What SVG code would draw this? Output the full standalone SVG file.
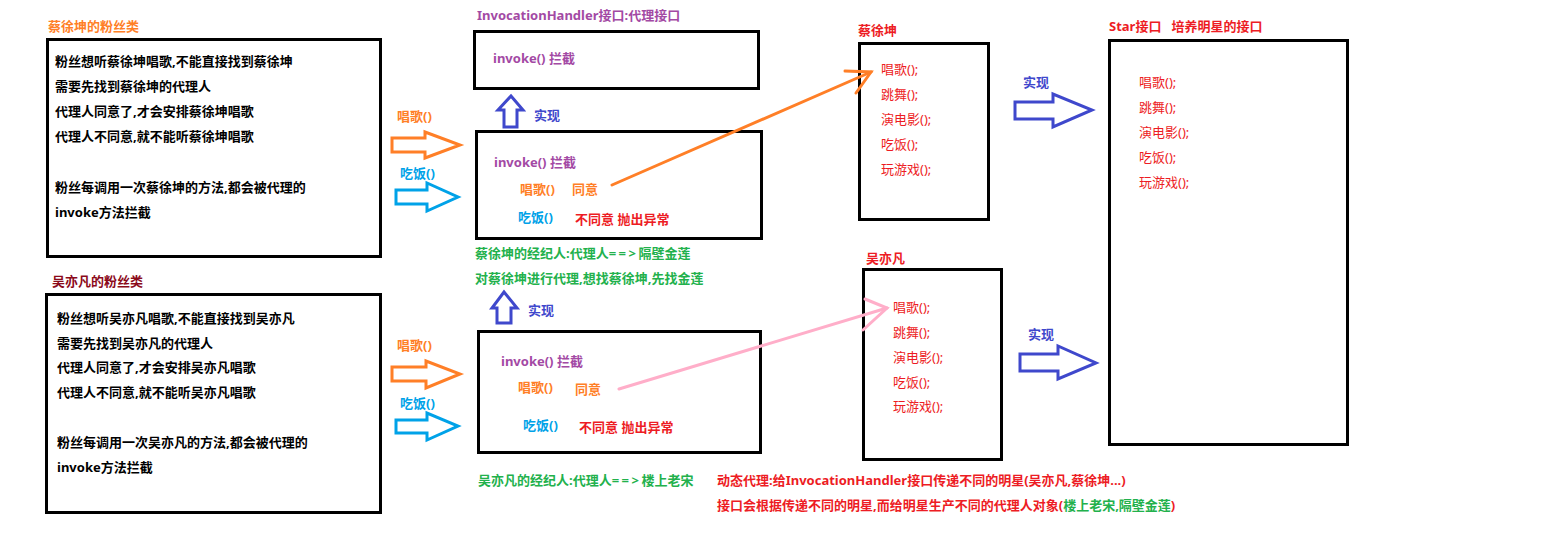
<svg xmlns="http://www.w3.org/2000/svg" width="1554" height="537" viewBox="0 0 1554 537">
<style>
text{font-family:"Noto Sans","Noto Sans CJK SC",sans-serif;font-size:13px;font-weight:bold}
.box{fill:none;stroke:#000;stroke-width:3}
.blk{fill:#000}
.or{fill:#FF7F27}
.bl{fill:#00A2E8}
.pu{fill:#A349A4}
.db{fill:#3F48CC}
.rd{fill:#ED1C24}
.gr{fill:#22B14C}
.dr{fill:#8B0A1A}
.it{font-weight:normal;fill:#ED1C24}
.sp{letter-spacing:2.5px}
.arr{fill:#fff;stroke-width:3;stroke-linejoin:miter}
</style>
<rect width="1554" height="537" fill="#fff"/>

<g id="fans-cxk">
<text x="48" y="31" class="or">蔡徐坤的粉丝类</text>
<rect class="box" x="47.5" y="39.5" width="333" height="217"/>
<text x="55" y="66" class="blk">粉丝想听蔡徐坤唱歌,不能直接找到蔡徐坤</text>
<text x="55" y="91" class="blk">需要先找到蔡徐坤的代理人</text>
<text x="55" y="116" class="blk">代理人同意了,才会安排蔡徐坤唱歌</text>
<text x="55" y="141" class="blk">代理人不同意,就不能听蔡徐坤唱歌</text>
<text x="55" y="192" class="blk">粉丝每调用一次蔡徐坤的方法,都会被代理的</text>
<text x="55" y="217" class="blk">invoke方法拦截</text>
</g>

<g id="fans-wyf">
<text x="52" y="286" class="dr">吴亦凡的粉丝类</text>
<rect class="box" x="46.5" y="294.5" width="334" height="218"/>
<text x="57" y="323" class="blk">粉丝想听吴亦凡唱歌,不能直接找到吴亦凡</text>
<text x="57" y="348" class="blk">需要先找到吴亦凡的代理人</text>
<text x="57" y="372" class="blk">代理人同意了,才会安排吴亦凡唱歌</text>
<text x="57" y="397" class="blk">代理人不同意,就不能听吴亦凡唱歌</text>
<text x="57" y="447" class="blk">粉丝每调用一次吴亦凡的方法,都会被代理的</text>
<text x="57" y="472" class="blk">invoke方法拦截</text>
</g>

<g id="invocation-handler">
<text x="477" y="20" class="pu">InvocationHandler接口:代理接口</text>
<rect class="box" x="474.5" y="31.5" width="284" height="57"/>
<text x="493" y="63" class="pu">invoke() 拦截</text>
</g>

<g id="proxy-cxk">
<rect class="box" x="476.5" y="131.5" width="285" height="107"/>
<text x="494" y="167" class="pu">invoke() 拦截</text>
<text x="520" y="194" class="or">唱歌()</text>
<text x="572" y="194" class="or">同意</text>
<text x="518" y="222" class="bl">吃饭()</text>
<text x="575" y="224" class="rd">不同意 抛出异常</text>
<text x="475" y="258" class="gr">蔡徐坤的经纪人:代理人<tspan class="sp">==&gt;</tspan>隔壁金莲</text>
<text x="475" y="283" class="gr">对蔡徐坤进行代理,想找蔡徐坤,先找金莲</text>
</g>

<g id="proxy-wyf">
<rect class="box" x="478.5" y="331.5" width="282" height="121"/>
<text x="501" y="366" class="pu">invoke() 拦截</text>
<text x="518" y="392" class="or">唱歌()</text>
<text x="575" y="394" class="or">同意</text>
<text x="523" y="430" class="bl">吃饭()</text>
<text x="579" y="432" class="rd">不同意 抛出异常</text>
<text x="478" y="485" class="gr">吴亦凡的经纪人:代理人<tspan class="sp">==&gt;</tspan>楼上老宋</text>
</g>

<g id="star-cxk">
<text x="858" y="35" class="rd">蔡徐坤</text>
<rect class="box" x="859.5" y="43.5" width="129" height="176"/>
<text x="881" y="74" class="it">唱歌();</text>
<text x="881" y="99" class="it">跳舞();</text>
<text x="881" y="124" class="it">演电影();</text>
<text x="881" y="149" class="it">吃饭();</text>
<text x="881" y="174" class="it">玩游戏();</text>
</g>

<g id="star-wyf">
<text x="866" y="263" class="rd">吴亦凡</text>
<rect class="box" x="863.5" y="269.5" width="138" height="190"/>
<text x="893" y="312" class="it">唱歌();</text>
<text x="893" y="337" class="it">跳舞();</text>
<text x="893" y="362" class="it">演电影();</text>
<text x="893" y="387" class="it">吃饭();</text>
<text x="893" y="411" class="it">玩游戏();</text>
</g>

<g id="star-interface">
<text x="1109" y="31" class="rd" xml:space="preserve">Star接口   培养明星的接口</text>
<rect class="box" x="1109.5" y="40.5" width="238" height="404"/>
<text x="1139" y="87" class="it">唱歌();</text>
<text x="1139" y="112" class="it">跳舞();</text>
<text x="1139" y="137" class="it">演电影();</text>
<text x="1139" y="162" class="it">吃饭();</text>
<text x="1139" y="187" class="it">玩游戏();</text>
</g>

<g id="notes">
<text x="717" y="485" class="rd">动态代理:给InvocationHandler接口传递不同的明星(吴亦凡,蔡徐坤...)</text>
<text x="717" y="510" class="rd">接口会根据传递不同的明星,而给明星生产不同的代理人对象(<tspan class="gr">楼上老宋,隔壁金莲</tspan>)</text>
</g>

<g id="connectors">
<text x="397" y="121" class="or">唱歌()</text>
<polygon class="arr" stroke="#FF7F27" points="392,138 425,138 425,132 460,145 425,158 425,152 392,152"/>
<text x="400" y="178" class="bl">吃饭()</text>
<polygon class="arr" stroke="#00A2E8" points="396,190 427,190 427,183 458,197 427,211 427,204 396,204"/>
<text x="397" y="350" class="or">唱歌()</text>
<polygon class="arr" stroke="#FF7F27" points="392,367 426,367 426,361 460,374 426,388 426,381 392,381"/>
<text x="400" y="408" class="bl">吃饭()</text>
<polygon class="arr" stroke="#00A2E8" points="396,420 427,420 427,413 458,426 427,440 427,433 396,433"/>

<polygon class="arr" stroke="#3F48CC" points="511,96 523,110 517,110 517,127 504,127 504,110 498,110"/>
<text x="534" y="120" class="db">实现</text>
<polygon class="arr" stroke="#3F48CC" points="504,292 517,308 511,308 511,323 497,323 497,308 492,308"/>
<text x="528" y="315" class="db">实现</text>

<text x="1023" y="87" class="db">实现</text>
<polygon class="arr" stroke="#3F48CC" points="1015,102 1053,102 1053,94 1092,110 1053,127 1053,119 1015,119"/>
<text x="1028" y="339" class="db">实现</text>
<polygon class="arr" stroke="#3F48CC" points="1020,354 1058,354 1058,346 1096,363 1058,379 1058,371 1020,371"/>

<g fill="none" stroke="#FF7F27" stroke-width="3" stroke-linecap="round">
<line x1="612" y1="185" x2="871" y2="72"/>
<polyline points="845,71 871,72 856,93"/>
</g>
<g fill="none" stroke="#FFAEC9" stroke-width="3" stroke-linecap="round">
<line x1="619" y1="389" x2="887" y2="308"/>
<polyline points="865,299 887,308 863,330"/>
</g>
</g>
</svg>
